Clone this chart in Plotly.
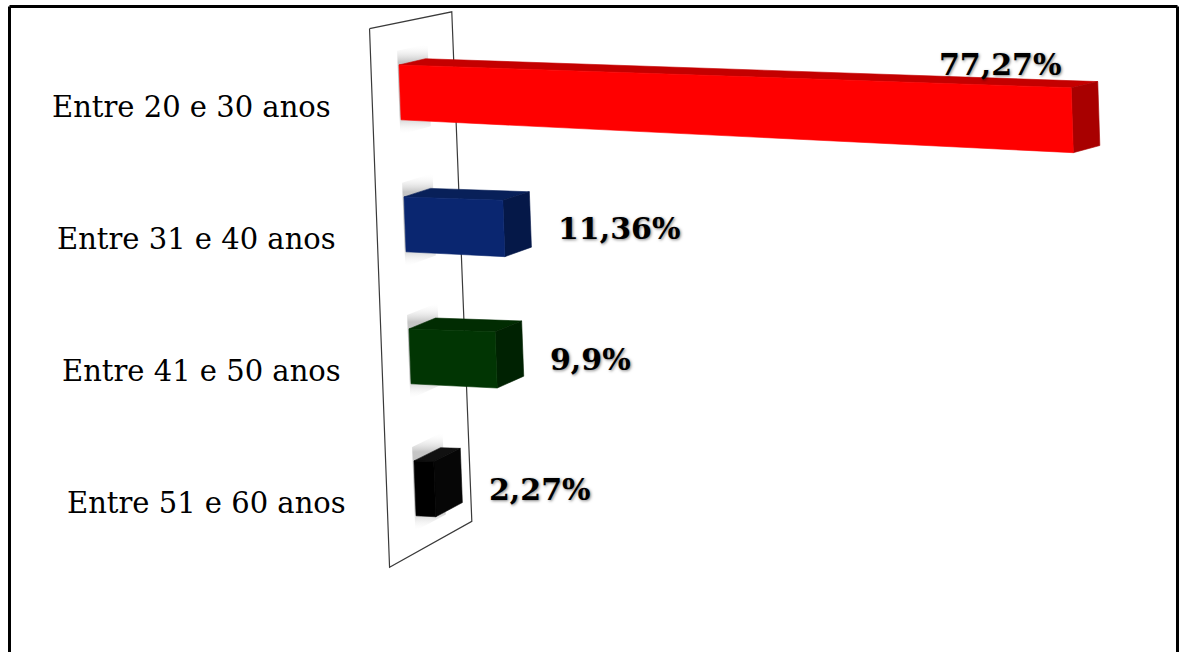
import plotly.graph_objects as go

# Age groups and their share of respondents
categories = ["Entre 20 e 30 anos", "Entre 31 e 40 anos", "Entre 41 e 50 anos", "Entre 51 e 60 anos"]
values = [77.27, 11.36, 9.9, 2.27]

front_colors = ["#FF0000", "#0A2670", "#013503", "#000000"]
top_colors = ["#C40000", "#082059", "#012C02", "#111111"]
side_colors = ["#A80000", "#051848", "#002202", "#060606"]

# Pseudo-3D geometry, expressed in axis units (x: percent, y: category rows)
HALF_H = 0.208      # half bar thickness
DEPTH_X = 3.05      # horizontal shift of one depth unit
SHEAR_X = 0.575     # leftmost edge drifts right going down
RISE = 0.00273      # bars drop slightly as they extend
SPREAD = 0.00236    # bars thicken slightly as they extend
WALL_Y = (-0.526, 3.48)
WALL_Z = (-1.05, 2.05)


def depth_dy(y):
    return -0.0506 - 0.0177 * y


def proj(v, row, off, z):
    y = row + off
    px = v + SHEAR_X * y + DEPTH_X * z
    py = row + off * (1 + SPREAD * v) + RISE * v + z * depth_dy(y)
    return px, py


def poly(points):
    xs = [p[0] for p in points] + [points[0][0]]
    ys = [p[1] for p in points] + [points[0][1]]
    return xs, ys


def label_text(v):
    return f"{v:g}".replace(".", ",") + "%"


fig = go.Figure()

# Back wall the bars grow out of
wx, wy = poly([
    proj(0, WALL_Y[0], 0, WALL_Z[0]),
    proj(0, WALL_Y[0], 0, WALL_Z[1]),
    proj(0, WALL_Y[1], 0, WALL_Z[1]),
    proj(0, WALL_Y[1], 0, WALL_Z[0]),
])
fig.add_trace(go.Scatter(x=wx, y=wy, mode="lines", fill="toself", fillcolor="white",
                         line=dict(color="#3a3a3a", width=1.2), hoverinfo="skip"))

rows = list(range(len(categories)))

# Soft shadows cast on the wall
for r in rows:
    ext = HALF_H + 0.11
    sx, sy = poly([
        proj(0, r, -ext, -0.05),
        proj(0, r, -ext, 1.1),
        proj(0, r, ext, 1.1),
        proj(0, r, ext, -0.05),
    ])
    fig.add_trace(go.Scatter(
        x=sx, y=sy, mode="none", fill="toself",
        fillgradient=dict(type="vertical", colorscale=[
            [0.0, "rgba(255,255,255,0)"], [0.2, "rgba(150,150,150,0.55)"],
            [0.5, "rgba(150,150,150,0.6)"], [0.8, "rgba(150,150,150,0.55)"],
            [1.0, "rgba(255,255,255,0)"]]),
        hoverinfo="skip"))

# Bars: top, end and front faces
for r, v in zip(rows, values):
    h = HALF_H
    faces = [
        ([proj(0, r, -h, 0), proj(v, r, -h, 0), proj(v, r, -h, 1), proj(0, r, -h, 1)], top_colors[r]),
        ([proj(v, r, -h, 0), proj(v, r, -h, 1), proj(v, r, h, 1), proj(v, r, h, 0)], side_colors[r]),
        ([proj(0, r, -h, 0), proj(v, r, -h, 0), proj(v, r, h, 0), proj(0, r, h, 0)], front_colors[r]),
    ]
    for pts, col in faces:
        fx, fy = poly(pts)
        fig.add_trace(go.Scatter(x=fx, y=fy, mode="lines", fill="toself", fillcolor=col,
                                 line=dict(color=col, width=0.6), hoverinfo="skip"))

# Category labels along the wall
for r, name in zip(rows, categories):
    lx = proj(0, r + 0.11, 0, WALL_Z[0])[0] - 4.6
    fig.add_annotation(x=lx, y=r + 0.11, text=name, showarrow=False,
                       xanchor="right", yanchor="middle",
                       font=dict(family="DejaVu Serif", size=29, color="black"))

# Value labels
for r, v in zip(rows, values):
    if v > 50:
        ex, ey = proj(v, r, -HALF_H, 0)
        x, y, xa = ex - 1.0, ey - 0.175, "right"
    else:
        x = proj(v, r, 0, 1)[0] + 2.9
        y = r + RISE * v
        xa = "left"
    fig.add_annotation(x=x, y=y, text=label_text(v), showarrow=False,
                       xanchor=xa, yanchor="middle",
                       font=dict(family="DejaVu Serif", size=30, color="black", weight="bold",
                                 shadow="1px 1px 3px rgba(0,0,0,0.5)"))

# Frame around the chart area (open at the bottom)
frame = dict(type="line", xref="paper", yref="paper", line=dict(color="black", width=3))
fig.add_shape(**frame, x0=9.5 / 1181, x1=9.5 / 1181, y0=-0.01, y1=1 - 6.5 / 652)
fig.add_shape(**frame, x0=9.5 / 1181, x1=1177.5 / 1181, y0=1 - 6.5 / 652, y1=1 - 6.5 / 652)
fig.add_shape(**frame, x0=1177.5 / 1181, x1=1177.5 / 1181, y0=-0.01, y1=1 - 6.5 / 652)

fig.update_layout(
    width=1181, height=652,
    margin=dict(l=0, r=0, t=0, b=0),
    paper_bgcolor="white", plot_bgcolor="white",
    showlegend=False,
    xaxis=dict(range=[-45.98, 89.77], visible=False, fixedrange=True),
    yaxis=dict(range=[4.24, -0.70], visible=False, fixedrange=True),
)

fig.write_html("out.html")
